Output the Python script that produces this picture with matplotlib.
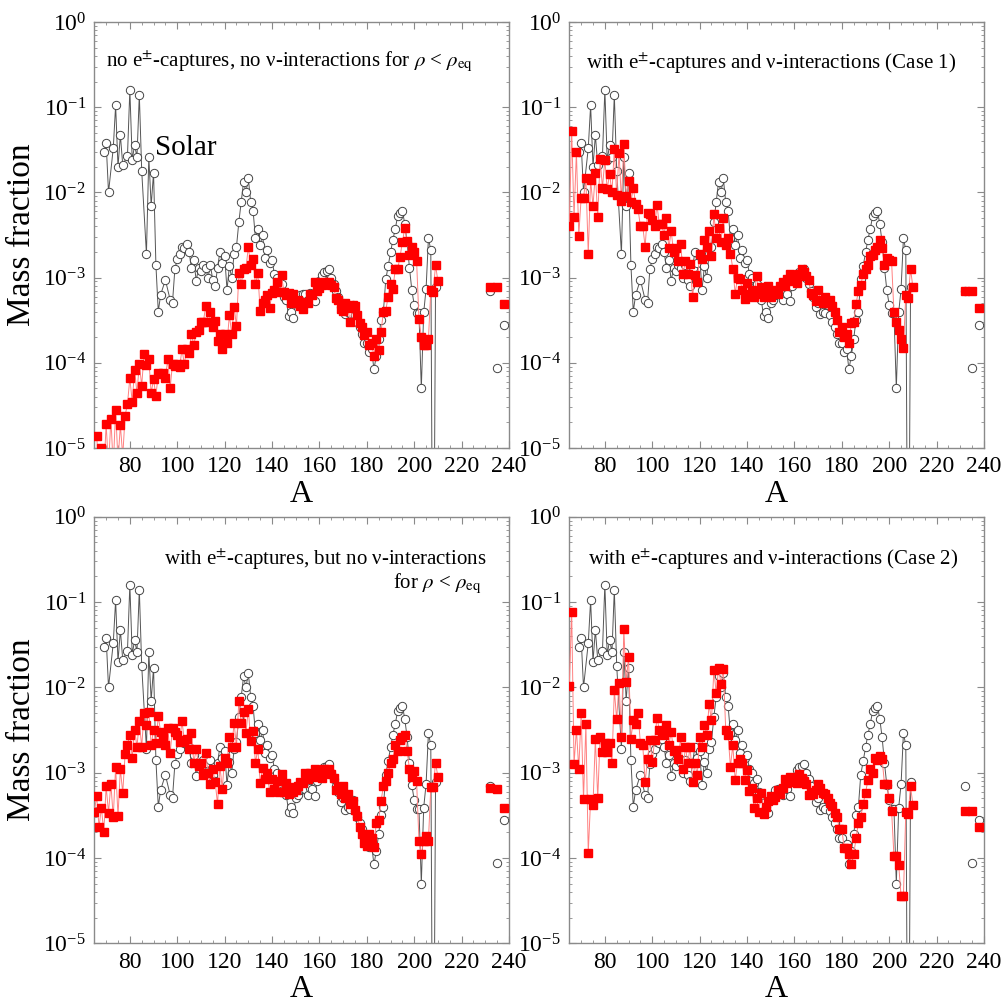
import numpy as np
import matplotlib
matplotlib.use("Agg")
import matplotlib.pyplot as plt
from matplotlib.ticker import MultipleLocator, LogLocator, LogFormatterMathtext, NullFormatter

nan = np.nan

# ---------------------------------------------------------------- data
# Solar r-process mass fractions (open circles)
solar_A = [69, 70, 71, 73, 74, 75, 76, 77, 79, 80, 81, 82, 83, 84, 85,
           87, 88, 89, 90, 91, 92, 93, 95, 97, 98] + list(range(99, 210))
solar_X = [0.030, 0.038, 0.010, 0.033, 0.105, 0.020, 0.047, 0.021, 0.027, 0.16,
           0.024, 0.036, 0.026, 0.14, 0.018,
           0.0019, 0.026, 0.0070, 0.017, 0.0014, 0.00040, 0.00063, 0.00094, 0.00055, 0.00051,
           # 99-108
           0.00126, 0.00165, 0.0019, 0.0023, 0.0022, 0.0025, 0.0020, 0.0013, 0.0016, 0.00092,
           # 109-118
           0.0013, 0.0012, 0.0014, 0.0013, 0.0010, 0.0014, 0.00093, 0.00080, 0.0013, 0.0020,
           # 119-128
           0.0015, 0.0018, 0.00072, 0.00135, 0.0010, 0.0019, 0.0023, 0.0045, 0.0077, 0.0134,
           # 129-138
           0.0100, 0.0146, 0.0077, 0.0061, 0.0029, 0.0037, 0.0024, 0.0032, 0.0017, 0.0021,
           # 139-148
           0.0015, 0.0016, 0.0011, 0.00098, 0.00075, 0.00084, 0.00060, 0.00055, 0.00035, 0.00040,
           # 149-158
           0.00034, 0.00050, 0.00055, 0.00063, 0.00065, 0.00065, 0.00055, 0.00066, 0.00065, 0.00053,
           # 159-168
           0.00080, 0.00090, 0.00107, 0.00115, 0.00120, 0.00125, 0.00100, 0.00085, 0.00070, 0.00060,
           # 169-178
           0.00045, 0.00050, 0.00037, 0.00040, 0.00038, 0.00048, 0.00036, 0.00030, 0.00026, 0.00022,
           # 179-188
           0.00017, 0.00017, 0.000135, 0.000145, 0.000084, 0.00012, 0.00019, 0.00032, 0.00040, 0.00095,
           # 189-198
           0.00137, 0.0020, 0.0028, 0.0037, 0.0053, 0.0058, 0.0061, 0.0043, 0.0026, 0.0013,
           # 199-209
           0.00071, 0.00048, 0.00038, 0.00038, 0.00005, 0.00039, 0.00073, 0.0029, 0.0021, 1e-8,
           0.00077]

actinide_A = [232, 235, 238]
solar_act = [6.9e-4, 8.8e-5, 2.8e-4]

# Calculated mass fractions (red squares), A = 65 ... 210
calc_A = list(range(65, 211))

calc_no_captures = [
    nan, 1.4e-5, 5e-6, 1.0e-5, 5e-6, 1.9e-5, 6e-6, 2.2e-5, 6e-6, 2.8e-5,
    7e-6, 1.85e-5, 8e-6, 2.4e-5, 3.3e-5, 6.6e-5, 3.5e-5, 8.3e-5, 4.4e-5, 9.7e-5,
    5.4e-5, 1.26e-4, 9.4e-5, 1.1e-4, 4.4e-5, 6.4e-5, 4.1e-5, 7.5e-5, 7.3e-5, 7.6e-5,
    6.6e-5, 1.1e-4, 5.0e-5, 9.8e-5, 9.2e-5, 9.7e-5, 8.9e-5, 1.44e-4, 9.7e-5, 1.47e-4,
    1.3e-4, 2.2e-4, 1.6e-4, 2.3e-4, 2.4e-4, 3.0e-4, 3.0e-4, 4.6e-4, 3.0e-4, 3.9e-4,
    2.6e-4, 3.1e-4, 1.8e-4, 2.2e-4, 1.44e-4, 2.2e-4, 1.7e-4, 3.6e-4, 2.2e-4, 4.5e-4,
    2.7e-4, 1.12e-3, 8.4e-4, 1.26e-3, 1.29e-3, 2.27e-3, 1.4e-3, 1.66e-3, 8.3e-4, 1.12e-3,
    4.1e-4, 5.0e-4, 5.5e-4, 6.3e-4, 4.4e-4, 6.6e-4, 7.1e-4, 8.9e-4, 6.8e-4, 1.07e-3,
    6.8e-4, 6.3e-4, 6.6e-4, 5.0e-4, 6.5e-4, 5.0e-4, 5.5e-4, 4.6e-4, 4.3e-4, 5.2e-4,
    5.0e-4, 6.5e-4, 6.2e-4, 8.9e-4, 7.0e-4, 7.5e-4, 8.1e-4, 8.9e-4, 8.5e-4, 8.8e-4,
    8.2e-4, 7.8e-4, 5.7e-4, 5.5e-4, 4.3e-4, 4.1e-4, 5.0e-4, 4.4e-4, 3.0e-4, 4.8e-4,
    4.6e-4, 3.6e-4, 2.9e-4, 2.6e-4, 2.1e-4, 2.3e-4, 1.6e-4, 1.7e-4, 1.2e-4, 1.9e-4,
    1.4e-4, 2.3e-4, 4.0e-4, 4.1e-4, 6.0e-4, 8.5e-4, 7.4e-4, 1.25e-3, 1.25e-3, 1.74e-3,
    2.6e-3, 3.8e-3, 2.7e-3, 1.85e-3, 2.3e-3, 2.0e-3, 1.58e-3, 3.3e-4, 2.0e-4, 1.6e-4,
    1.6e-4, 1.9e-4, 7.1e-4, 6.8e-4, 1.4e-3, 9.1e-4]

calc_case1 = [
    4.0e-3, 0.053, 5.1e-3, 0.030, 3.1e-3, 8.7e-3, 8.6e-3, 0.0146, 1.9e-3, 0.014,
    6.9e-3, 0.017, 5.1e-3, 0.0245, 0.0114, 0.024, 0.011, 0.0165, 0.010, 0.032,
    9.3e-3, 0.029, 7.9e-3, 0.037, 9.0e-3, 0.0135, 7.7e-3, 0.0114, 7.3e-3, 6.4e-3,
    4.0e-3, 4.0e-3, 2.3e-3, 5.8e-3, 5.6e-3, 4.8e-3, 4.0e-3, 7.1e-3, 4.2e-3, 4.2e-3,
    3.2e-3, 5.0e-3, 2.2e-3, 3.5e-3, 2.0e-3, 2.2e-3, 1.55e-3, 2.5e-3, 1.1e-3, 1.55e-3,
    1.1e-3, 1.46e-3, 5.9e-4, 1.08e-3, 8.9e-4, 1.9e-3, 1.65e-3, 2.8e-3, 2.3e-3, 3.5e-3,
    1.8e-3, 5.6e-3, 2.95e-3, 3.8e-3, 2.6e-3, 5.0e-3, 2.4e-3, 2.9e-3, 1.9e-3, 1.27e-3,
    6.5e-4, 1.0e-3, 9.5e-4, 7.2e-4, 5.6e-4, 8.6e-4, 6.5e-4, 7.1e-4, 6.0e-4, 1.05e-3,
    6.5e-4, 7.8e-4, 6.0e-4, 6.4e-4, 8.0e-4, 6.0e-4, 7.0e-4, 7.2e-4, 6.5e-4, 8.0e-4,
    8.9e-4, 8.0e-4, 9.5e-4, 1.1e-3, 9.0e-4, 9.5e-4, 8.6e-4, 1.1e-3, 1.25e-3, 1.15e-3,
    1.05e-3, 9.3e-4, 6.6e-4, 6.2e-4, 5.3e-4, 7.2e-4, 5.5e-4, 5.0e-4, 6.0e-4, 5.0e-4,
    5.5e-4, 4.6e-4, 3.9e-4, 3.2e-4, 2.3e-4, 2.6e-4, 2.0e-4, 2.2e-4, 1.7e-4, 2.9e-4,
    3.0e-4, 4.9e-4, 7.0e-4, 8.2e-4, 1.1e-3, 1.26e-3, 1.4e-3, 1.8e-3, 1.85e-3, 2.1e-3,
    2.3e-3, 2.8e-3, 2.2e-3, 1.4e-3, 1.7e-3, 1.6e-3, 1.55e-3, 3.9e-4, 3.0e-4, 2.4e-4,
    1.9e-4, 1.5e-4, 6.3e-4, 5.8e-4, 1.26e-3, 7.7e-4]

calc_captures_only = [
    3.5e-4, 5.3e-4, 2.3e-4, 3.9e-4, 2.0e-4, 6.9e-4, 3.4e-4, 7.4e-4, 3.0e-4, 1.17e-3,
    3.1e-4, 1.1e-3, 5.8e-4, 1.65e-3, 2.1e-3, 2.8e-3, 1.5e-3, 3.2e-3, 2.0e-3, 4.0e-3,
    2.0e-3, 5.0e-3, 3.6e-3, 5.2e-3, 2.1e-3, 3.2e-3, 2.2e-3, 4.6e-3, 3.0e-3, 2.6e-3,
    2.1e-3, 3.3e-3, 1.7e-3, 3.3e-3, 3.0e-3, 2.8e-3, 2.3e-3, 4.0e-3, 2.4e-3, 2.5e-3,
    1.9e-3, 2.9e-3, 1.3e-3, 1.9e-3, 1.2e-3, 1.3e-3, 9.5e-4, 1.7e-3, 1.0e-3, 7.3e-4,
    1.1e-3, 7.8e-4, 4.3e-4, 1.2e-3, 6.5e-4, 1.5e-3, 1.3e-3, 2.6e-3, 2.0e-3, 3.8e-3,
    2.0e-3, 7.0e-3, 3.8e-3, 5.1e-3, 2.9e-3, 5.6e-3, 2.35e-3, 3.1e-3, 1.3e-3, 1.9e-3,
    7.6e-4, 1.13e-3, 8.5e-4, 1.0e-3, 5.9e-4, 8.5e-4, 6.5e-4, 8.0e-4, 5.9e-4, 9.6e-4,
    6.0e-4, 7.6e-4, 5.6e-4, 6.7e-4, 5.9e-4, 6.3e-4, 6.9e-4, 7.7e-4, 7.5e-4, 1.0e-3,
    8.5e-4, 1.0e-3, 9.5e-4, 1.1e-3, 8.8e-4, 9.3e-4, 8.6e-4, 1.1e-3, 1.0e-3, 1.1e-3,
    9.7e-4, 8.7e-4, 6.3e-4, 6.7e-4, 5.6e-4, 7.0e-4, 5.0e-4, 5.6e-4, 4.3e-4, 4.6e-4,
    3.7e-4, 3.1e-4, 2.3e-4, 1.9e-4, 1.5e-4, 1.4e-4, 1.9e-4, 1.7e-4, 1.35e-4, 2.6e-4,
    2.8e-4, 4.6e-4, 7.0e-4, 7.9e-4, 1.0e-3, 1.3e-3, 1.45e-3, 2.1e-3, 1.8e-3, 2.4e-3,
    2.6e-3, 2.8e-3, 1.8e-3, 1.1e-3, 9.0e-4, 1.05e-3, 8.0e-4, 1.6e-4, 1.1e-4, 1.6e-4,
    1.8e-4, 1.6e-4, 6.8e-4, 6.7e-4, 1.3e-3, 9.0e-4]

calc_case2 = [
    0.0103, 0.077, 1.26e-3, 3.2e-3, 1.1e-3, 5.0e-3, 4.9e-4, 3.7e-3, 1.15e-4, 4.9e-4,
    4.2e-4, 2.5e-3, 5.0e-4, 2.6e-3, 1.73e-3, 2.2e-3, 1.75e-3, 2.25e-3, 1.3e-3, 9.3e-3,
    4.2e-3, 0.0113, 2.6e-3, 0.048, 0.0115, 0.0225, 2.5e-3, 4.1e-3, 3.7e-3, 5.0e-3,
    2.2e-3, 2.1e-3, 7.7e-4, 1.45e-3, 2.4e-3, 1.35e-3, 2.4e-3, 4.4e-3, 3.2e-3, 2.9e-3,
    2.75e-3, 3.6e-3, 2.1e-3, 3.0e-3, 1.8e-3, 1.85e-3, 1.45e-3, 2.6e-3, 1.1e-3, 2.0e-3,
    1.3e-3, 2.0e-3, 7.7e-4, 1.3e-3, 9.3e-4, 2.6e-3, 2.0e-3, 3.6e-3, 2.8e-3, 6.3e-3,
    4.1e-3, 0.016, 8.5e-3, 0.017, 0.011, 0.0165, 3.2e-3, 2.75e-3, 1.17e-3, 2.1e-3,
    8.1e-4, 1.3e-3, 1.45e-3, 1.3e-3, 8.1e-4, 1.08e-3, 6.1e-4, 6.6e-4, 3.9e-4, 5.0e-4,
    3.5e-4, 5.7e-4, 3.3e-4, 4.0e-4, 4.6e-4, 5.3e-4, 4.8e-4, 5.2e-4, 6.2e-4, 5.6e-4,
    6.6e-4, 8.4e-4, 7.5e-4, 8.9e-4, 7.7e-4, 8.0e-4, 7.5e-4, 9.6e-4, 8.6e-4, 8.0e-4,
    7.3e-4, 5.5e-4, 6.0e-4, 5.6e-4, 6.3e-4, 7.4e-4, 6.6e-4, 5.8e-4, 5.6e-4, 5.0e-4,
    4.4e-4, 4.1e-4, 3.4e-4, 3.0e-4, 2.2e-4, 2.2e-4, 1.3e-4, 1.3e-4, 1.1e-4, 8.4e-5,
    1.1e-4, 1.7e-4, 2.6e-4, 3.0e-4, 4.3e-4, 5.8e-4, 8.1e-4, 1.1e-3, 1.0e-3, 1.5e-3,
    1.4e-3, 1.55e-3, 1.45e-3, 7.4e-4, 7.4e-4, 5.0e-4, 3.6e-4, 1.05e-4, 1.05e-4, 8.3e-5,
    3.6e-5, 3.6e-5, 3.5e-4, 3.3e-4, 6.9e-4, 4.2e-4]

act_no_captures = [7.7e-4, 7.8e-4, 4.9e-4]
act_case1 = [7.0e-4, 7.0e-4, 4.4e-4]
act_captures_only = [6.6e-4, 6.5e-4, 3.9e-4]
act_case2 = [3.6e-4, 3.6e-4, 2.3e-4]

x_ticks = [80, 100, 120, 140, 160, 180, 200, 220, 240]

titles = [
    r"no e$^{\pm}$-captures, no ν-interactions for $\rho$ < $\rho_{\rm eq}$",
    r"with e$^{\pm}$-captures and ν-interactions (Case 1)",
    r"with e$^{\pm}$-captures, but no ν-interactions",
    r"with e$^{\pm}$-captures and ν-interactions (Case 2)",
]

calc_sets = [calc_no_captures, calc_case1, calc_captures_only, calc_case2]
act_sets = [act_no_captures, act_case1, act_captures_only, act_case2]

# ---------------------------------------------------------------- style
plt.rcParams['font.family'] = ['Liberation Serif', 'DejaVu Serif']
plt.rcParams['mathtext.fontset'] = 'stix'
plt.rcParams['axes.unicode_minus'] = True

W, H = 1004, 1006
fig = plt.figure(figsize=(W / 100, H / 100), dpi=100)

boxes = [(94.3, 22, 509, 448), (569.3, 22, 984, 448),
         (94.3, 516.7, 509, 943.3), (569.3, 516.7, 984, 943.3)]

frame_col = '#8a8a8a'
red = '#ff0000'
red_line = '#ff8080'
gray_line = '#555555'
note_size = 15

for i, (l, t, r, b) in enumerate(boxes):
    ax = fig.add_axes([l / W, 1 - b / H, (r - l) / W, (b - t) / H])
    ax.set_yscale('log')
    ax.set_xlim(65, 240)
    ax.set_ylim(1e-5, 1)

    # solar pattern
    ax.plot(solar_A, solar_X, '-', color=gray_line, lw=0.7, zorder=2)
    ax.plot(solar_A, solar_X, 'o', ms=6.0, mfc='white', mec='#444444', mew=0.7,
            ls='none', zorder=3)
    ax.plot(actinide_A, solar_act, 'o', ms=6.0, mfc='white', mec='#444444', mew=0.7,
            ls='none', zorder=3)

    # calculated pattern
    ax.plot(calc_A, calc_sets[i], '-', color=red_line, lw=0.7, zorder=4)
    ax.plot(calc_A, calc_sets[i], 's', ms=5.9, color=red, mec=red, ls='none', zorder=5)
    ax.plot(actinide_A, act_sets[i], 's', ms=5.9, color=red, mec=red, ls='none', zorder=5)

    # axes decoration
    for sp in ax.spines.values():
        sp.set_color(frame_col)
        sp.set_linewidth(1.0)
    ax.set_xticks(x_ticks)
    ax.xaxis.set_minor_locator(MultipleLocator(5))
    ax.yaxis.set_major_locator(LogLocator(base=10, numticks=10))
    ax.yaxis.set_minor_locator(LogLocator(base=10, subs=np.arange(2, 10), numticks=10))
    ax.yaxis.set_major_formatter(LogFormatterMathtext())
    ax.yaxis.set_minor_formatter(NullFormatter())
    ax.tick_params(which='both', direction='in', top=True, right=True,
                   color=frame_col, labelsize=17)
    ax.tick_params(which='major', length=5, width=0.8, pad=6)
    ax.tick_params(which='minor', length=2.5, width=0.6)

    ax.set_xlabel('A', fontsize=23, labelpad=2)
    if i in (0, 2):
        ax.set_ylabel('Mass fraction', fontsize=24, labelpad=4)

    if i == 0:
        ax.text(0.028, 0.906, titles[0], transform=ax.transAxes, fontsize=note_size,
                ha='left', va='center')
        ax.text(0.146, 0.704, 'Solar', transform=ax.transAxes, fontsize=21,
                ha='left', va='center')
    elif i == 1:
        ax.text(0.04, 0.902, titles[1], transform=ax.transAxes, fontsize=note_size,
                ha='left', va='center')
    elif i == 2:
        ax.text(0.947, 0.898, titles[2], transform=ax.transAxes, fontsize=note_size,
                ha='right', va='center')
        ax.text(0.933, 0.843, r"for $\rho$ < $\rho_{\rm eq}$", transform=ax.transAxes,
                fontsize=note_size, ha='right', va='center')
    else:
        ax.text(0.045, 0.898, titles[3], transform=ax.transAxes, fontsize=note_size,
                ha='left', va='center')

fig.savefig('out.png', dpi=100)
